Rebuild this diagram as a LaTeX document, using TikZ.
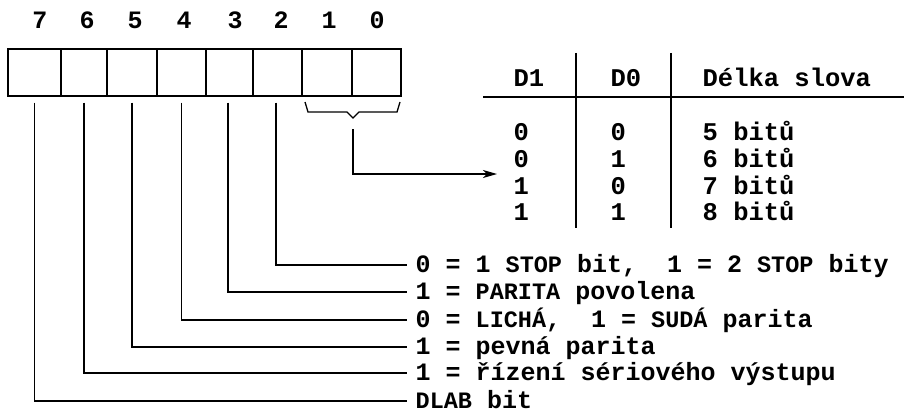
\documentclass[tikz,border=0pt]{standalone}
\usepackage{fontspec}
\setmainfont{Liberation Mono}
\usetikzlibrary{arrows.meta}
\newcommand\smc[1]{{\fontsize{23.5}{27}\selectfont #1}}
\begin{document}
\begin{tikzpicture}[x=1pt,y=-1pt,line width=1.3pt,
  txt/.style={font=\fontsize{25}{27}\selectfont\bfseries,inner sep=0pt,text height=16pt,text depth=2pt},
  digit/.style={txt},
  cell/.style={draw,minimum height=47pt,inner sep=0pt},
  desc/.style={txt,anchor=west,inner xsep=8pt},
  tab/.style={txt,anchor=west,font=\fontsize{25.5}{27}\selectfont\bfseries},
  lead/.style={line width=1.3pt}]
\useasboundingbox (0,0) rectangle (904,412);
% bit numbers
\node[digit] (n7) at (40,22) {7};
\node[digit] (n6) at (87,22) {6};
\node[digit] (n5) at (135,22) {5};
\node[digit] (n4) at (184,22) {4};
\node[digit] (n3) at (235,22) {3};
\node[digit] (n2) at (281,22) {2};
\node[digit] (n1) at (329,22) {1};
\node[digit] (n0) at (377,22) {0};
% register cells
\node[cell,minimum width=53pt] (c7) at (34.5,72.5) {};
\node[cell,minimum width=46pt] (c6) at (84,72.5) {};
\node[cell,minimum width=50pt] (c5) at (132,72.5) {};
\node[cell,minimum width=49pt] (c4) at (181.5,72.5) {};
\node[cell,minimum width=47pt] (c3) at (229.5,72.5) {};
\node[cell,minimum width=49pt] (c2) at (277.5,72.5) {};
\node[cell,minimum width=50pt] (c1) at (327,72.5) {};
\node[cell,minimum width=49pt] (c0) at (376.5,72.5) {};
% descriptions
\node[desc] (t2) at (407,265) {0 = 1 \smc{STOP} bit,\ \ 1 = 2 \smc{STOP} bity};
\node[desc] (t3) at (407,292) {1 = \smc{PARITA} povolena};
\node[desc] (t4) at (407,320) {0 = \smc{LICHÁ},\ \ 1 = \smc{SUDÁ} parita};
\node[desc] (t5) at (407,347) {1 = pevná parita};
\node[desc] (t6) at (407,373) {1 = řízení sériového výstupu};
\node[desc] (t7) at (407,401) {\smc{DLAB} bit};
% leads
\draw[lead] ([yshift=-6pt]c7.south) |- (t7.west);
\draw[lead] ([yshift=-6pt]c6.south) |- (t6.west);
\draw[lead] ([yshift=-6pt]c5.south) |- (t5.west);
\draw[lead] ([yshift=-6pt]c4.south) |- (t4.west);
\draw[lead] ([yshift=-6pt,xshift=-1.5pt]c3.south) |- (t3.west);
\draw[lead] ([yshift=-6pt,xshift=-1.5pt]c2.south) |- (t2.west);
% brace under bits 1,0
\draw[lead] (305,102) -- (308,112) -- (347,112) -- (353,118) -- (359,112) -- (397,112) -- (400,102);
% table
\node[tab] (h1) at (513,79) {D1};
\node[tab] (h0) at (610,79) {D0};
\node[tab] (hl) at (702,79) {Délka slova};
\draw (483,97) -- (904,97);
\draw (576,53) -- (576,228);
\draw (671,53) -- (671,228);
\node[tab] (a1) at (513,133) {0};
\node[tab] (a0) at (610,133) {0};
\node[tab] (al) at (702,133) {5 bitů};
\node[tab] (b1) at (513,160) {0};
\node[tab] (b0) at (610,160) {1};
\node[tab] (bl) at (702,160) {6 bitů};
\node[tab] (e1) at (513,187) {1};
\node[tab] (e0) at (610,187) {0};
\node[tab] (el) at (702,187) {7 bitů};
\node[tab] (f1) at (513,213) {1};
\node[tab] (f0) at (610,213) {1};
\node[tab] (fl) at (702,213) {8 bitů};
% arrow from brace to table
\coordinate (brc) at (353,129);
\coordinate (arr) at (497,174);
\draw[lead,-{Stealth[length=14pt,width=8pt,inset=4pt]}] (brc) |- (arr);
\end{tikzpicture}
\end{document}
